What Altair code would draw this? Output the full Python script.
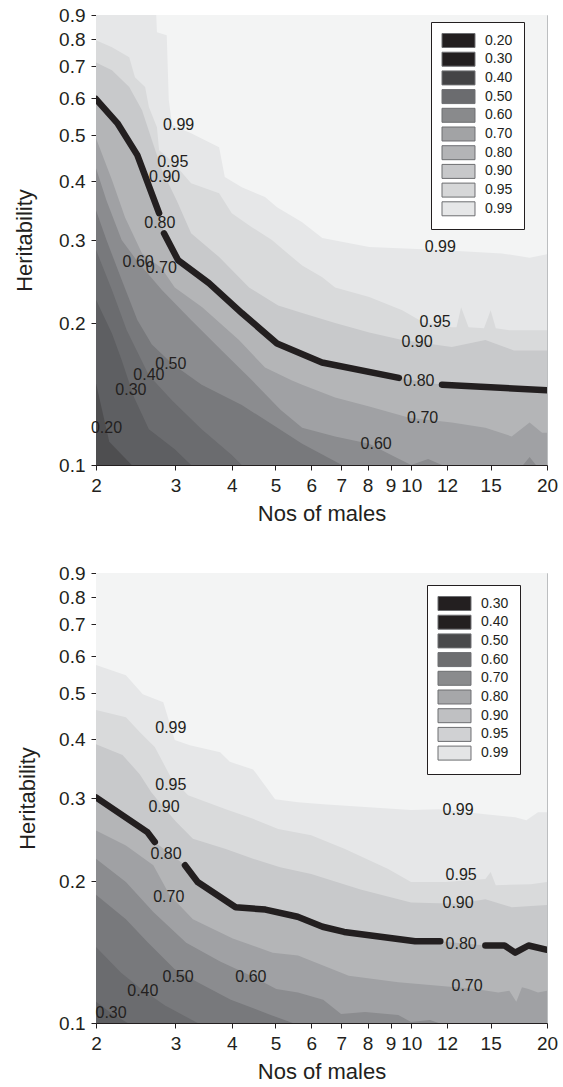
import altair as alt
import pandas as pd

FONT = "Liberation Sans"
INK = "#231f20"

X_TICKS = [2, 3, 4, 5, 6, 7, 8, 9, 10, 12, 15, 20]
Y_TICKS = [0.1, 0.2, 0.3, 0.4, 0.5, 0.6, 0.7, 0.8, 0.9]

# fill of the region at/above each contour level (plot shading)
BAND_FILL = {
    "base_top": "#4e4e50", "base_bottom": "#5e5f62",
    "0.20": "#5e5f62", "0.30": "#6b6c6f", "0.40": "#78797c", "0.50": "#8b8c8f",
    "0.60": "#a0a1a4", "0.70": "#b4b5b7", "0.80": "#c8c9cb", "0.90": "#d9dadb",
    "0.95": "#e6e7e8", "0.99": "#f3f4f4",
}

# ---------------- top panel: contour boundaries (Nos of males, heritability)
TOP_LEVELS = ["0.20", "0.30", "0.40", "0.50", "0.60", "0.70", "0.80", "0.90", "0.95", "0.99"]
TOP_LEGEND_COLORS = ["#231f20", "#231f20", "#444446", "#6b6c6f", "#898a8c",
                     "#a2a3a5", "#b3b4b6", "#c7c8ca", "#d6d7d8", "#e6e7e8"]
TOP_CURVES = {
    "0.20": ([2, 2.14, 2.40, 20], [0.149, 0.112, 0.100, 0.100]),
    "0.30": ([2, 2.17, 2.28, 2.43, 2.62, 2.99, 3.25, 20],
             [0.224, 0.190, 0.167, 0.139, 0.119, 0.108, 0.100, 0.100]),
    "0.40": ([2, 2.17, 2.34, 2.62, 2.95, 3.43, 4.00, 4.21, 20],
             [0.286, 0.235, 0.193, 0.155, 0.137, 0.119, 0.105, 0.100, 0.100]),
    "0.50": ([2, 2.11, 2.28, 2.47, 2.66, 2.95, 3.43, 4.21, 4.91, 5.73, 7.02, 20],
             [0.347, 0.300, 0.247, 0.203, 0.180, 0.164, 0.148, 0.134, 0.122, 0.111, 0.100, 0.100]),
    "0.60": ([2, 2.11, 2.28, 2.48, 2.80, 3.25, 3.80, 4.44, 5.13, 5.73, 6.78, 8.07, 9.21,
              10.0, 10.9, 11.7, 17.7, 18.3, 18.9, 20],
             [0.426, 0.364, 0.300, 0.269, 0.235, 0.203, 0.175, 0.151, 0.131, 0.120, 0.115,
              0.111, 0.104, 0.100, 0.103, 0.100, 0.100, 0.104, 0.100, 0.100]),
    "0.70": ([2, 2.17, 2.32, 2.53, 2.79, 2.99, 3.44, 4.15, 4.74, 5.44, 5.73, 6.78, 8.07,
              9.90, 12.3, 14.6, 16.7, 18.3, 19.5, 20],
             [0.493, 0.402, 0.335, 0.281, 0.262, 0.238, 0.216, 0.184, 0.161, 0.151, 0.148,
              0.139, 0.133, 0.126, 0.123, 0.120, 0.115, 0.123, 0.117, 0.117]),
    "0.80": ([2, 2.23, 2.47, 2.76, 2.83, 3.04, 3.56, 4.21, 5.04, 6.34, 9.39, 11.7, 20],
             [0.597, 0.531, 0.454, 0.342, 0.310, 0.272, 0.243, 0.210, 0.181, 0.165, 0.153,
              0.148, 0.144]),
    "0.90": ([2, 2.17, 2.37, 2.53, 2.66, 2.80, 2.87, 3.02, 3.25, 3.75, 4.37, 5.07, 5.73,
              6.78, 8.07, 9.55, 12.3, 14.6, 16.9, 20],
             [0.714, 0.687, 0.633, 0.565, 0.489, 0.422, 0.402, 0.364, 0.310, 0.276, 0.238,
              0.218, 0.210, 0.200, 0.191, 0.184, 0.178, 0.184, 0.175, 0.175]),
    "0.95": ([2, 2.17, 2.37, 2.44, 2.57, 2.62, 2.73, 2.76, 2.96, 3.25, 3.75, 4.00, 4.44,
              4.91, 5.44, 5.73, 6.35, 6.78, 8.07, 9.55, 10.6, 12.3, 12.6, 12.9, 13.4, 14.5,
              15.0, 15.4, 16.5, 20],
             [0.796, 0.769, 0.732, 0.664, 0.633, 0.574, 0.520, 0.465, 0.439, 0.396, 0.377,
              0.342, 0.319, 0.300, 0.276, 0.265, 0.250, 0.238, 0.227, 0.213, 0.201, 0.196,
              0.196, 0.216, 0.196, 0.195, 0.213, 0.195, 0.193, 0.193]),
    "0.99": ([2, 2.72, 2.73, 2.87, 2.90, 2.95, 3.25, 3.75, 3.86, 4.21, 4.74, 5.04, 5.73,
              6.35, 8.07, 11.3, 15.9, 18.3, 20],
             [0.9, 0.9, 0.827, 0.815, 0.594, 0.526, 0.505, 0.472, 0.408, 0.388, 0.370,
              0.352, 0.327, 0.303, 0.290, 0.286, 0.281, 0.275, 0.280]),
}
TOP_LINE_SEGMENT = [0, 0, 0, 0, 1, 1, 1, 1, 1, 1, 1, 2, 2]
TOP_LABEL_TEXT = ["0.99", "0.95", "0.90", "0.80", "0.60", "0.70", "0.50", "0.40", "0.30",
                  "0.20", "0.99", "0.95", "0.90", "0.80", "0.70", "0.60"]
TOP_LABEL_X = [3.05, 2.96, 2.84, 2.77, 2.48, 2.79, 2.93, 2.62, 2.39, 2.11,
               11.6, 11.3, 10.3, 10.4, 10.6, 8.36]
TOP_LABEL_Y = [0.526, 0.439, 0.408, 0.326, 0.269, 0.262, 0.164, 0.155, 0.144, 0.120,
               0.290, 0.201, 0.182, 0.151, 0.126, 0.111]

# ---------------- bottom panel
BOT_LEVELS = ["0.30", "0.40", "0.50", "0.60", "0.70", "0.80", "0.90", "0.95", "0.99"]
BOT_LEGEND_COLORS = ["#231f20", "#231f20", "#49494b", "#6d6e70", "#8a8b8d",
                     "#a6a7a9", "#bfc0c2", "#d0d1d3", "#e4e5e6"]
BOT_CURVES = {
    "0.30": ([2, 2.16, 2.35, 20], [0.111, 0.105, 0.100, 0.100]),
    "0.40": ([2, 2.27, 2.52, 2.84, 3.36, 20], [0.145, 0.128, 0.118, 0.109, 0.100, 0.100]),
    "0.50": ([2, 2.33, 2.61, 2.99, 3.36, 3.98, 4.88, 5.46, 20],
             [0.187, 0.166, 0.148, 0.130, 0.122, 0.112, 0.104, 0.100, 0.100]),
    "0.60": ([2, 2.33, 2.68, 3.17, 3.77, 4.41, 5.02, 5.61, 6.38, 6.99, 7.90, 9.36, 9.99,
              11.0, 11.5, 20],
             [0.223, 0.199, 0.172, 0.148, 0.135, 0.126, 0.118, 0.116, 0.112, 0.1045, 0.1055,
              0.104, 0.1005, 0.1015, 0.100, 0.100]),
    "0.70": ([2, 2.33, 2.68, 2.91, 3.28, 4.02, 4.93, 5.61, 7.27, 9.36, 11.5, 13.9, 15.6,
              16.5, 17.1, 17.6, 18.2, 19.1, 20],
             [0.256, 0.238, 0.216, 0.187, 0.166, 0.151, 0.141, 0.139, 0.126, 0.122, 0.120,
              0.118, 0.116, 0.117, 0.111, 0.119, 0.118, 0.116, 0.117]),
    "0.80": ([2, 2.60, 2.70, 3.15, 3.36, 4.08, 4.75, 5.6, 6.36, 7.1, 10.2, 11.6, 14.6,
              16.1, 17.0, 18.2, 20],
             [0.301, 0.254, 0.242, 0.216, 0.199, 0.176, 0.174, 0.168, 0.160, 0.156, 0.149,
              0.149, 0.146, 0.146, 0.141, 0.146, 0.143]),
    "0.90": ([2, 2.29, 2.50, 2.65, 2.82, 3.01, 3.28, 3.88, 4.46, 5.12, 6.00, 7.72, 9.99,
              12.7, 14.6, 16.7, 20],
             [0.390, 0.370, 0.337, 0.309, 0.287, 0.267, 0.246, 0.234, 0.223, 0.214, 0.207,
              0.192, 0.180, 0.179, 0.183, 0.176, 0.178]),
    "0.95": ([2, 2.33, 2.50, 2.70, 2.93, 3.20, 3.88, 4.46, 5.07, 6.00, 7.13, 8.89, 9.99,
              11.9, 14.6, 15.0, 15.4, 18.4, 20],
             [0.461, 0.445, 0.414, 0.385, 0.332, 0.304, 0.284, 0.271, 0.258, 0.250, 0.234,
              0.212, 0.199, 0.199, 0.202, 0.209, 0.196, 0.197, 0.199]),
    "0.99": ([2, 2.33, 2.54, 2.82, 2.99, 3.23, 3.77, 3.96, 4.46, 4.99, 5.61, 6.38, 7.90,
              9.99, 11.5, 14.6, 17.0, 18.0, 19.1, 20],
             [0.574, 0.546, 0.498, 0.479, 0.398, 0.388, 0.375, 0.358, 0.345, 0.298, 0.294,
              0.291, 0.287, 0.283, 0.284, 0.277, 0.273, 0.269, 0.280, 0.280]),
}
BOT_LINE_SEGMENT = [0, 0, 0, 1, 1, 1, 1, 1, 1, 1, 1, 1, 2, 2, 2, 2, 2]
BOT_LABEL_TEXT = ["0.99", "0.95", "0.90", "0.80", "0.70", "0.50", "0.60", "0.40", "0.30",
                  "0.99", "0.95", "0.90", "0.80", "0.70"]
BOT_LABEL_X = [2.93, 2.93, 2.83, 2.86, 2.90, 3.04, 4.41, 2.54, 2.16,
               12.7, 12.9, 12.7, 12.9, 13.3]
BOT_LABEL_Y = [0.422, 0.319, 0.287, 0.228, 0.185, 0.125, 0.125, 0.117, 0.105,
               0.283, 0.206, 0.180, 0.147, 0.120]

PATH = "M-2.5,-1.06L2.5,-1.06L2.5,1.06L-2.5,1.06Z"


def make_panel(levels, curves, base_fill, line_seg, lab_text, lab_x, lab_y,
               leg_colors, leg_x, leg_y, title_pad):
    xs = alt.Scale(type="log", domain=[2, 20], nice=False)
    ys = alt.Scale(type="log", domain=[0.1, 0.9], nice=False)
    x_axis = alt.Axis(values=X_TICKS, format="d", title="Nos of males", grid=False,
                      labelFont=FONT, labelFontSize=19, labelColor=INK, labelPadding=6,
                      labelFlush=False, labelOverlap=False, labelBound=False,
                      tickSize=5, tickColor=INK, domainColor=INK,
                      titleFont=FONT, titleFontSize=22, titleFontWeight="normal",
                      titleColor=INK, titlePadding=8)
    y_axis = alt.Axis(values=Y_TICKS, format=".1f", title="Heritability", grid=False,
                      labelFont=FONT, labelFontSize=19, labelColor=INK, labelPadding=6,
                      labelFlush=False, labelOverlap=False, labelBound=False,
                      tickSize=5, tickColor=INK, domainColor=INK,
                      titleFont=FONT, titleFontSize=22, titleFontWeight="normal",
                      titleColor=INK, titlePadding=title_pad)
    X = alt.X("x:Q", scale=xs, axis=x_axis)
    Y = alt.Y("y:Q", scale=ys, axis=y_axis)

    layers = []
    base_df = pd.DataFrame({"x": [2, 20], "y": [0.1, 0.1], "top": [0.9, 0.9]})
    layers.append(alt.Chart(base_df).mark_area(fill=base_fill, clip=True).encode(
        x=X, y=Y, y2="top:Q"))
    for lev in levels:
        cx, cy = curves[lev]
        df = pd.DataFrame({"x": cx, "y": cy, "top": [0.9] * len(cx)})
        layers.append(alt.Chart(df).mark_area(fill=BAND_FILL[lev], clip=True).encode(
            x=X, y=Y, y2="top:Q"))

    lx, ly = curves["0.80"]
    line_df = pd.DataFrame({"x": lx, "y": ly, "seg": line_seg, "i": list(range(len(lx)))})
    layers.append(alt.Chart(line_df).mark_line(
        color=INK, strokeWidth=6.5, strokeCap="round", strokeJoin="round", clip=True
    ).encode(x=X, y=Y, detail="seg:N", order="i:Q"))

    lab_df = pd.DataFrame({"x": lab_x, "y": lab_y, "t": lab_text})
    layers.append(alt.Chart(lab_df).mark_text(
        font=FONT, fontSize=16, color=INK, align="center", baseline="middle"
    ).encode(x=X, y=Y, text="t:N"))

    legend = alt.Legend(
        title=None, orient="none", legendX=leg_x, legendY=leg_y, direction="vertical",
        symbolType=PATH, symbolSize=174, symbolStrokeColor="#6d6e71", symbolStrokeWidth=1,
        symbolOpacity=1, symbolOffset=9,
        labelFont=FONT, labelFontSize=14, labelColor=INK, labelOffset=19,
        padding=11, rowPadding=-0.3, strokeColor=INK, fillColor="white", cornerRadius=0,
    )
    leg_df = pd.DataFrame({"lev": levels})
    layers.append(alt.Chart(leg_df).mark_square(opacity=0).encode(
        fill=alt.Fill("lev:N", scale=alt.Scale(domain=levels, range=leg_colors),
                      legend=legend)))

    return alt.layer(*layers).properties(width=451, height=450)


top = make_panel(TOP_LEVELS, TOP_CURVES, BAND_FILL["base_top"], TOP_LINE_SEGMENT,
                 TOP_LABEL_TEXT, TOP_LABEL_X, TOP_LABEL_Y, TOP_LEGEND_COLORS, 335, 7, 22)
bottom = make_panel(BOT_LEVELS, BOT_CURVES, BAND_FILL["base_bottom"], BOT_LINE_SEGMENT,
                    BOT_LABEL_TEXT, BOT_LABEL_X, BOT_LABEL_Y, BOT_LEGEND_COLORS, 331, 12, 19)

chart = alt.vconcat(top, bottom, spacing=38).resolve_scale(
    fill="independent"
).properties(
    padding={"left": 13, "top": 5, "right": 0, "bottom": 0},
    background="white",
).configure_view(stroke="#bcbec0", strokeWidth=1)

chart.save("out.html", embed_options={"renderer": "svg", "actions": False})
